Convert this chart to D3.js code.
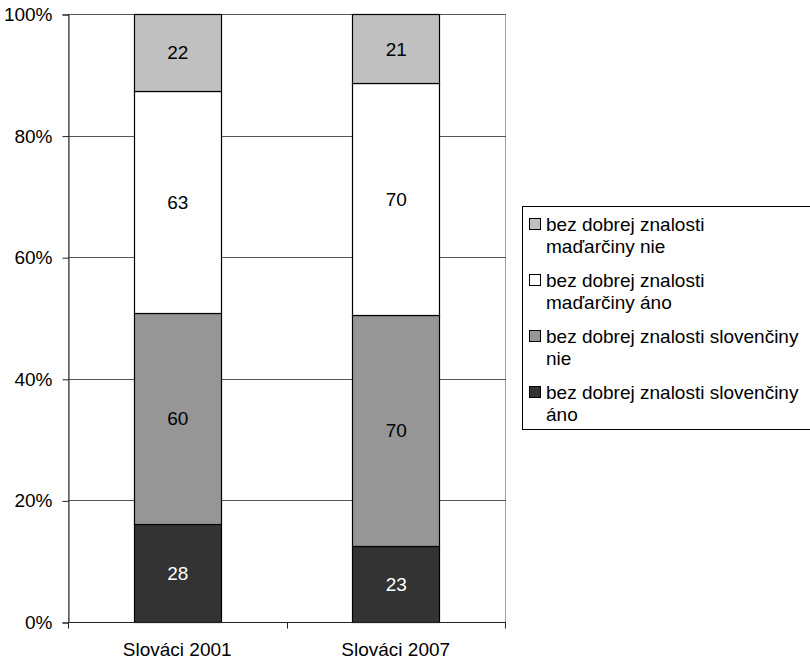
<!DOCTYPE html>
<html><head><meta charset="utf-8">
<script src="https://cdn.jsdelivr.net/npm/d3@7"></script>
<style>
html,body{margin:0;padding:0;background:#fff;}
svg{display:block;font-family:"Liberation Sans",Arial,sans-serif;}
</style></head>
<body><svg id="c" width="810" height="660"></svg>
<script>
const categories = ["Slováci 2001", "Slováci 2007"];
const seriesNames = [
  "bez dobrej znalosti slovenčiny áno",
  "bez dobrej znalosti slovenčiny nie",
  "bez dobrej znalosti maďarčiny áno",
  "bez dobrej znalosti maďarčiny nie"
];
const legendLines = [
  ["bez dobrej znalosti slovenčiny", "áno"],
  ["bez dobrej znalosti slovenčiny", "nie"],
  ["bez dobrej znalosti", "maďarčiny áno"],
  ["bez dobrej znalosti", "maďarčiny nie"]
];
const slovencinyAno = [28, 23];
const slovencinyNie = [60, 70];
const madarcinyAno = [63, 70];
const madarcinyNie = [22, 21];
const seriesColors = ["#333333", "#969696", "#ffffff", "#c0c0c0"];
const labelColors = ["#ffffff", "#000000", "#000000", "#000000"];
const yTicks = [0, 0.2, 0.4, 0.6, 0.8, 1.0];

const FS = 19;
const seriesValues = [slovencinyAno, slovencinyNie, madarcinyAno, madarcinyNie];
const rows = categories.map((c, i) => {
  const r = {cat: c};
  seriesNames.forEach((s, j) => r[s] = seriesValues[j][i]);
  return r;
});
const stacked = d3.stack().keys(seriesNames).offset(d3.stackOffsetExpand)(rows);

const svg = d3.select("#c");
const L = 68, R = 505, T = 14, B = 622;
const x = d3.scaleBand().domain(categories).range([L, R]).paddingInner(0.6).paddingOuter(0.3);
const y = d3.scaleLinear().domain([0, 1]).range([B, T]);

// plot border (gray)
svg.append("rect").attr("x", L + 0.5).attr("y", T + 0.5).attr("width", R - L).attr("height", B - T)
  .attr("fill", "none").attr("stroke", "#a0a0a0").attr("stroke-width", 1);

// gridlines
svg.append("g").selectAll("line").data(yTicks.filter(t => t > 0)).join("line")
  .attr("x1", L).attr("x2", R + 1)
  .attr("y1", d => Math.round(y(d)) + 0.5).attr("y2", d => Math.round(y(d)) + 0.5)
  .attr("stroke", "#555").attr("stroke-width", 1);

// bars
const g = svg.append("g");
stacked.forEach((s, j) => {
  g.selectAll(null).data(s).join("rect")
    .attr("x", d => Math.round(x(d.data.cat)) + 0.5)
    .attr("y", d => Math.round(y(d[1])) + 0.5)
    .attr("width", Math.round(x.bandwidth()))
    .attr("height", d => Math.round(y(d[0])) - Math.round(y(d[1])))
    .attr("fill", seriesColors[j]).attr("stroke", "#000").attr("stroke-width", 1.2);
  g.selectAll(null).data(s).join("text")
    .attr("x", d => x(d.data.cat) + x.bandwidth() / 2 + 0.5)
    .attr("y", d => (y(d[0]) + y(d[1])) / 2)
    .attr("dy", "0.36em").attr("text-anchor", "middle")
    .attr("font-size", FS).attr("fill", labelColors[j])
    .text(d => d.data[seriesNames[j]]);
});

// y axis
const yAxis = d3.axisLeft(y).tickValues(yTicks).tickFormat(d3.format(".0%")).tickSize(6).tickPadding(10);
const ya = svg.append("g").attr("transform", `translate(${L + 0.5},0.5)`).call(yAxis);
ya.select(".domain").attr("stroke", "#222");
ya.selectAll(".tick line").attr("stroke", "#222");
ya.selectAll("text").attr("font-size", FS).attr("fill", "#000")
  .attr("font-family", "Liberation Sans, Arial, sans-serif");

// x axis
const xa = svg.append("g").attr("transform", `translate(0,${B + 0.5})`);
xa.append("line").attr("x1", L).attr("x2", R + 1).attr("y1", 0).attr("y2", 0).attr("stroke", "#222");
const xTickPos = [L, (L + R) / 2, R];
xa.selectAll(".xt").data(xTickPos).join("line")
  .attr("x1", d => Math.round(d) + 0.5).attr("x2", d => Math.round(d) + 0.5)
  .attr("y1", 0).attr("y2", 6).attr("stroke", "#222");
xa.selectAll("text").data(categories).join("text")
  .attr("x", d => x(d) + x.bandwidth() / 2)
  .attr("y", 33).attr("text-anchor", "middle").attr("font-size", FS).attr("fill", "#000")
  .text(d => d);

// legend
const lg = svg.append("g");
lg.append("rect").attr("x", 522.5).attr("y", 206.5).attr("width", 300).attr("height", 223)
  .attr("fill", "#fff").attr("stroke", "#000").attr("stroke-width", 1);
const order = [3, 2, 1, 0];
order.forEach((j, k) => {
  const ty = 224 + k * 56;
  lg.append("rect").attr("x", 529.5).attr("y", ty - 5.5).attr("width", 11).attr("height", 11)
    .attr("fill", seriesColors[j]).attr("stroke", "#000").attr("stroke-width", 1);
  legendLines[j].forEach((line, li) => {
    lg.append("text").attr("x", 546).attr("y", ty + li * 22.5).attr("dy", "0.36em")
      .attr("font-size", FS).attr("fill", "#000").text(line);
  });
});
</script></body></html>
